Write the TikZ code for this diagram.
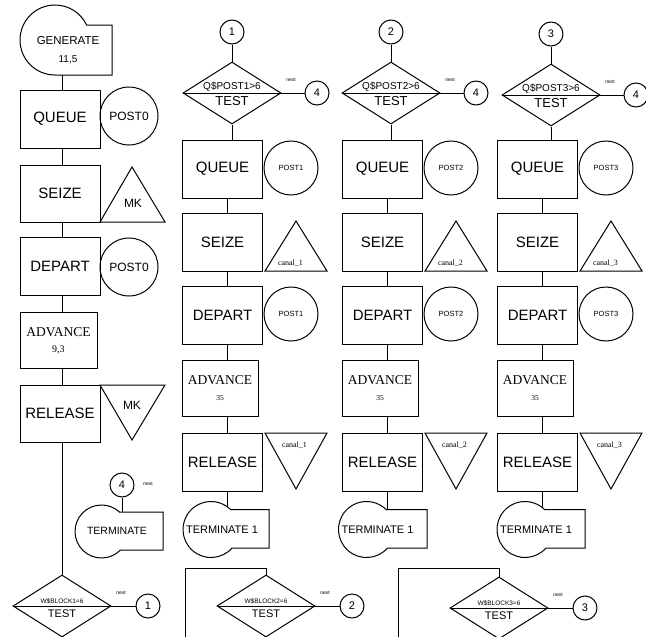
\documentclass[tikz,border=0pt]{standalone}
\usepackage{fontspec}
\setmainfont{Liberation Serif}
\setsansfont{Liberation Sans}
\usetikzlibrary{shapes.geometric}
\tikzset{
 shp/.style={draw, line width=1pt},
 link/.style={line width=1pt},
 box/.style={shp, rectangle, inner sep=0pt, minimum width=80pt, minimum height=58pt, font=\sffamily\fontsize{15}{15}\selectfont},
 ring/.style={shp, circle, inner sep=0pt, minimum size=54pt, font=\sffamily\fontsize{7.5}{7.5}\selectfont},
 num/.style={shp, circle, inner sep=0pt, minimum size=24pt, font=\sffamily\fontsize{11}{11}\selectfont},
 dia/.style={shp, diamond, inner sep=0pt, minimum width=98pt, minimum height=62pt},
 txt/.style={inner sep=0pt},
 nx/.style={txt, font=\sffamily\fontsize{5}{5}\selectfont},
 advf/.style={txt, font=\rmfamily\fontsize{13.5}{13.5}\selectfont},
 canf/.style={txt, font=\rmfamily\fontsize{8}{8}\selectfont},
}
% circle + rectangle outline (GENERATE / TERMINATE): cx, cy, r, xright, ytop, ybottom
\newcommand\tshape[6]{%
 \pgfmathsetmacro\tsdt{#5-#2}%
 \pgfmathsetmacro\tsxt{sqrt(max(#3*#3-\tsdt*\tsdt,0))}%
 \pgfmathsetmacro\tsat{atan2(\tsdt,\tsxt)}%
 \pgfmathsetmacro\tsdb{#6-#2}%
 \pgfmathsetmacro\tsxb{sqrt(max(#3*#3-\tsdb*\tsdb,0))}%
 \pgfmathsetmacro\tsab{atan2(\tsdb,\tsxb)}%
 \draw[shp] ({#1+\tsxt},#5) -- (#4,#5) -- (#4,#6) -- ({#1+\tsxb},#6)
   arc[start angle=\tsab, end angle={360+\tsat}, radius=#3] -- cycle;
}
\begin{document}
\begin{tikzpicture}[x=1pt,y=-1pt]
\useasboundingbox (0,0) rectangle (646,637);

% ---------------- column 0 ----------------
\tshape{55}{40}{35}{112}{25}{75}
\node[txt, font=\sffamily\fontsize{11.5}{11.5}\selectfont] (genl) at (68,41) {GENERATE};
\node[txt, font=\sffamily\fontsize{10}{10}\selectfont] (genn) at (68,60) {11,5};
\coordinate (genb) at (62.5,75);
\coordinate (sp0) at (62.5,0);
\node[box] (q0) at (60,119) {QUEUE};
\node[ring, minimum size=58pt, font=\sffamily\fontsize{12}{12}\selectfont] (pq0) at (129,116) {POST0};
\node[box, minimum height=57pt] (s0) at (60,193.5) {SEIZE};
\draw[shp] (100,222) -- (165,222) -- (132,167) -- cycle;
\node[txt, font=\sffamily\fontsize{12}{12}\selectfont] (mka) at (133,203) {MK};
\node[box] (d0) at (60,266) {DEPART};
\node[ring, minimum size=58pt, font=\sffamily\fontsize{12}{12}\selectfont] (pd0) at (129,267) {POST0};
\node[box, minimum width=77pt, minimum height=56pt] (a0) at (58.5,340) {};
\node[advf] (a0l) at (58.5,332) {ADVANCE};
\node[txt, font=\rmfamily\fontsize{10}{10}\selectfont] (a0n) at (58.5,350) {9,3};
\node[box, minimum height=57pt] (r0) at (60,413.5) {RELEASE};
\draw[shp] (100,385) -- (165,385) -- (132,440) -- cycle;
\node[txt, font=\sffamily\fontsize{12}{12}\selectfont] (mkb) at (132,405) {MK};
\tshape{101.5}{531.5}{26.5}{163}{512}{550}
\node[txt, font=\sffamily\fontsize{10.5}{10.5}\selectfont] (term0) at (117,531) {TERMINATE};
\node[num] (n4a) at (122,485) {4};
\node[nx] (nx0) at (148,484) {next};
\coordinate (term0t) at (122,512);
\draw[link] (n4a.south) -- (term0t);

\draw[link] (genb) -- (q0.north -| genb);
\draw[link] (q0.south -| sp0) -- (s0.north -| sp0);
\draw[link] (s0.south -| sp0) -- (d0.north -| sp0);
\draw[link] (d0.south -| sp0) -- (a0.north -| sp0);
\draw[link] (a0.south -| sp0) -- (r0.north -| sp0);

% ---------------- columns 1-3 ----------------
\foreach \k/\bc/\dx/\dy/\tcx/\tr in {1/222.5/232/93/211/269, 2/382.5/391/93/366.5/427, 3/537.5/551/95/525/585} {
  \pgfmathsetmacro\spx{\bc+4.5}
  \node[num] (top\k) at (\dx,\dy-61) {\k};
  \node[dia] (t\k) at (\dx,\dy) {};
  \draw[link] (t\k.west) -- (t\k.east);
  \node[txt, font=\sffamily\fontsize{10}{10}\selectfont] (tu\k) at (\dx,\dy-6) {Q\$POST\k>6};
  \node[txt, font=\sffamily\fontsize{13}{13}\selectfont] (tl\k) at (\dx,\dy+8) {TEST};
  \node[num] (nt\k) at (\dx+85,\dy) {4};
  \node[nx] (nxt\k) at (\dx+59,\dy-13) {next};
  \draw[link] (top\k.south) -- (t\k.north);
  \draw[link] (t\k.east) -- (nt\k.west);

  \node[box] (q\k) at (\bc,169) {QUEUE};
  \node[ring] (pq\k) at (\bc+68.5,168) {POST\k};
  \node[box] (s\k) at (\bc,242) {SEIZE};
  \draw[shp] (\bc+42.5,271) -- (\bc+104.5,271) -- (\bc+73.5,221) -- cycle;
  \node[canf] (cs\k) at (\bc+68,263) {canal\_\k};
  \node[box] (d\k) at (\bc,315) {DEPART};
  \node[ring] (pd\k) at (\bc+68.5,314) {POST\k};
  \node[box, minimum width=76pt, minimum height=56pt] (a\k) at (\bc-2.5,388) {};
  \node[advf] (al\k) at (\bc-2.5,380) {ADVANCE};
  \node[txt, font=\rmfamily\fontsize{7.5}{7.5}\selectfont] (an\k) at (\bc-2.5,398) {35};
  \node[box] (r\k) at (\bc,462) {RELEASE};
  \draw[shp] (\bc+42.5,433) -- (\bc+104.5,433) -- (\bc+73.5,489) -- cycle;
  \node[canf] (cr\k) at (\bc+72,445) {canal\_\k};
  \tshape{\tcx}{529.5}{28}{\tr}{509.5}{548}
  \node[txt, font=\sffamily\fontsize{11}{11}\selectfont] (term\k) at (\tcx+11,530) {TERMINATE 1};
  \coordinate (sp\k) at (\spx,0);
  \coordinate (tt\k) at ({\spx},{min(509.5,529.5-sqrt(784-(\spx-\tcx)*(\spx-\tcx)))});

  \draw[link] (t\k.south) -- (t\k.south |- q\k.north);
  \draw[link] (q\k.south -| sp\k) -- (s\k.north -| sp\k);
  \draw[link] (s\k.south -| sp\k) -- (d\k.north -| sp\k);
  \draw[link] (d\k.south -| sp\k) -- (a\k.north -| sp\k);
  \draw[link] (a\k.south -| sp\k) -- (r\k.north -| sp\k);
  \draw[link] (r\k.south -| sp\k) -- (tt\k);
}

% ---------------- bottom tests ----------------
\foreach \k/\x/\y in {1/62/606, 2/266/606, 3/499/608} {
  \node[dia] (b\k) at (\x,\y) {};
  \draw[link] (b\k.west) -- (b\k.east);
  \node[txt, font=\sffamily\fontsize{6.5}{6.5}\selectfont] (bu\k) at (\x,\y-5) {W\$BLOCK\k=6};
  \node[txt, font=\sffamily\fontsize{11}{11}\selectfont] (bl\k) at (\x,\y+8) {TEST};
  \node[num] (nb\k) at (\x+86,\y) {\k};
  \node[nx] (nxb\k) at (\x+59,\y-13) {next};
  \draw[link] (b\k.east) -- (nb\k.west);
}
\draw[link] (r0.south -| b1.north) -- (b1.north);
\coordinate (e2) at (185,637);
\coordinate (k2) at (185,568);
\draw[link] (e2) -- (k2) -- (k2 -| b2.north) -- (b2.north);
\coordinate (e3) at (398,637);
\coordinate (k3) at (398,568);
\draw[link] (e3) -- (k3) -- (k3 -| b3.north) -- (b3.north);
\end{tikzpicture}
\end{document}
